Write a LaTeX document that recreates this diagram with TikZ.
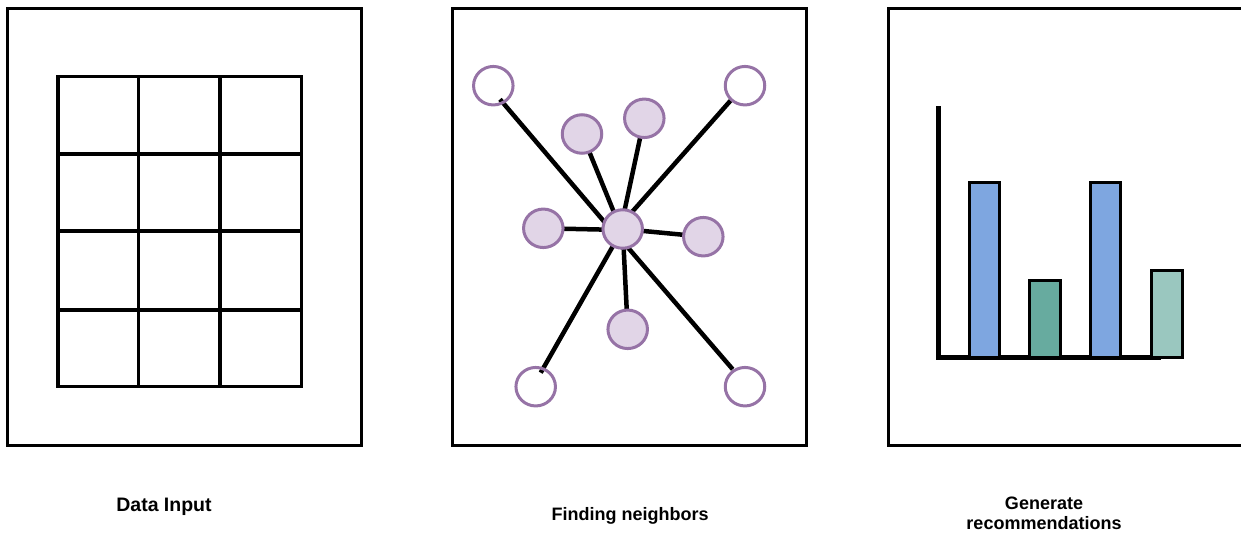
\documentclass[tikz,border=0pt]{standalone}
\usepackage{fontspec}
\setmainfont{Liberation Sans}
\usetikzlibrary{shapes.geometric}
\pgfdeclarelayer{background}
\pgfsetlayers{background,main}
\definecolor{nodeline}{HTML}{9673A6}
\definecolor{nodefill}{HTML}{E1D5E7}
\definecolor{barblue}{HTML}{7EA6E0}
\definecolor{bargreen}{HTML}{67AB9F}
\definecolor{barmint}{HTML}{9AC7BF}
\tikzset{
  panel/.style={draw=black, line width=3pt, rectangle, inner sep=0pt,
    minimum width=354pt, minimum height=436.5pt},
  gridline/.style={draw=black, line width=3.2pt, line cap=rect},
  hollow/.style={ellipse, draw=nodeline, line width=3pt, inner sep=0pt,
    minimum width=39.5pt, minimum height=38.5pt},
  member/.style={hollow, fill=nodefill},
  link/.style={draw=black, line width=4.5pt},
  axisline/.style={draw=black, line width=4.5pt},
  bar/.style={draw=black, line width=3pt},
  caption/.style={font=\fontsize{18}{20}\selectfont\bfseries, inner sep=0pt, align=center}
}
\begin{document}
\begin{tikzpicture}[x=1pt, y=-1pt]
\useasboundingbox (0,0) rectangle (1241,533);
\clip (0,0) rectangle (1241,533);

% three panels
\node[panel] (panelA) at (184.5,226.75) {};
\node[panel] (panelB) at (629.7,226.75) {};
\node[panel] (panelC) at (1065.3,226.75) {};

% data table: 3 columns x 4 rows
\foreach \x in {58,138.7,220,301.7}
  \draw[gridline] (\x,76.7) -- (\x,386.7);
\foreach \y in {76.7,154,231,310,386.7}
  \draw[gridline] (58,\y) -- (301.7,\y);

% neighbourhood graph
\node[member] (C)  at (622.7,229) {};
\node[member] (U1) at (582,134) {};
\node[member] (U2) at (644.3,118.3) {};
\node[member] (L)  at (543.3,228.3) {};
\node[member] (R)  at (703.3,236.7) {};
\node[member] (B)  at (627.7,329.3) {};
\node[hollow] (TL) at (493.3,85.7) {};
\node[hollow] (TR) at (745,85.7) {};
\node[hollow] (BL) at (535.7,386.7) {};
\node[hollow] (BR) at (745,386.7) {};

% spoke end points inside the hollow circles
\coordinate (tlEnd) at (500,99.3);
\coordinate (trEnd) at (731.7,99.3);
\coordinate (blEnd) at (540.7,372.7);
\coordinate (brEnd) at (732.7,369.3);

\begin{pgfonlayer}{background}
  \draw[link] (tlEnd) -- ([shift={(-14,-2)}]C.center);
  \draw[link] (trEnd) -- ([shift={(4,-11)}]C.center);
  \draw[link] (blEnd) -- ([shift={(-4,7)}]C.center);
  \draw[link] (brEnd) -- ([shift={(-3,9)}]C.center);
  \draw[link] (U1.center) -- ([shift={(-6,-10)}]C.center);
  \draw[link] (U2.center) -- ([shift={(0,-10)}]C.center);
  \draw[link] (L.center) -- ([shift={(0,1)}]C.center);
  \draw[link] (C.center) -- (R.center);
  \draw[link] (C.center) -- (B.center);
\end{pgfonlayer}

% bar chart
\coordinate (axTop) at (938.3,106);
\coordinate (axOrigin) at (938.3,357.3);
\coordinate (axEnd) at (1161,357.3);
\draw[axisline, line join=miter] (axTop) -- (axOrigin) -- (axEnd);
\draw[bar, fill=barblue]  (969.5,182.8) rectangle (999.2,357.3);
\draw[bar, fill=bargreen] (1029.8,280.2) rectangle (1060.5,357.3);
\draw[bar, fill=barblue]  (1090.5,182.8) rectangle (1120.8,357.3);
\draw[bar, fill=barmint]  (1151.5,270.2) rectangle (1182.2,357.8);

% captions
\node[caption, anchor=base, font=\fontsize{19.5}{21}\selectfont\bfseries] (capA) at (164,511.7) {Data Input};
\node[caption, anchor=base] (capB) at (630,520) {Finding neighbors};
\node[caption, anchor=north] (capC) at (1044,497) {Generate\\recommendations};
\end{tikzpicture}
\end{document}
